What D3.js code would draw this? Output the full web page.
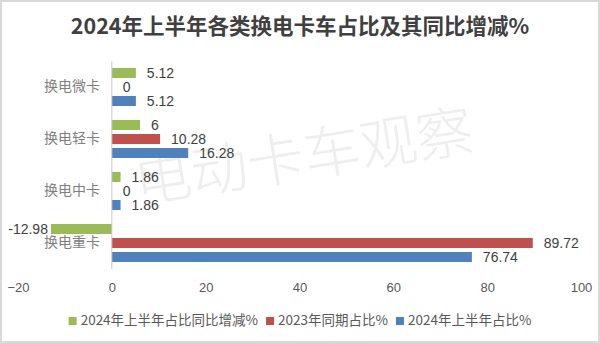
<!DOCTYPE html>
<html>
<head>
<meta charset="utf-8">
<script src="https://cdn.jsdelivr.net/npm/d3@7"></script>
<style>
  html, body { margin: 0; padding: 0; background: #fff; }
  svg { display: block; }
</style>
</head>
<body>
<svg id="chart" width="600" height="343"></svg>
<script>
// Battery-swap truck share, H1 2024, with year-on-year change (%)
const categories = ["换电微卡", "换电轻卡", "换电中卡", "换电重卡"];
const changeYoY = [5.12, 6, 1.86, -12.98];
const share2023 = [0, 10.28, 0, 89.72];
const share2024 = [5.12, 16.28, 1.86, 76.74];
const seriesNames = ["2024年上半年占比同比增减%", "2023年同期占比%", "2024年上半年占比%"];
const seriesColors = ["#9BBB59", "#C0504D", "#4F81BD"];
const xTicks = [-20, 0, 20, 40, 60, 80, 100];
const titleText = "2024年上半年各类换电卡车占比及其同比增减%";
const watermarkText = "电动卡车观察";

const seriesValues = [changeYoY, share2023, share2024];
const W = 600, H = 343;
const svg = d3.select("#chart");
const cjk = "'Noto Sans CJK SC', 'Noto Sans', sans-serif";
const num = "'Liberation Sans', Arial, sans-serif";

// frame
svg.append("rect").attr("x", 1).attr("y", 1).attr("width", W - 2).attr("height", H - 2)
  .attr("fill", "#fff").attr("stroke", "#d9d9d9").attr("stroke-width", 2);

// title
svg.append("text").attr("x", 300).attr("y", 28)
  .attr("text-anchor", "middle").attr("dominant-baseline", "middle")
  .attr("font-family", cjk).attr("font-weight", "bold").attr("font-size", 21.5)
  .attr("fill", "#404040").text(titleText);

const x = d3.scaleLinear().domain([-20, 100]).range([18, 581]);
const y = d3.scaleBand().domain(categories).range([61, 269]);
const inner = d3.scalePoint().domain([0, 1, 2]).range([12, 40]);
const barH = 10;

// watermark
svg.append("text").attr("x", 138).attr("y", 203)
  .attr("transform", "rotate(-9,138,203)")
  .attr("font-family", cjk).attr("font-size", 57).attr("font-weight", 300)
  .attr("fill", "#eeeeee").text(watermarkText);

// bars and value labels
const rows = [];
categories.forEach((c, ci) => {
  seriesValues.forEach((vals, si) => rows.push({ c, si, v: vals[ci] }));
});

const g = svg.append("g");
g.selectAll("rect.bar").data(rows).join("rect")
  .attr("class", "bar")
  .attr("x", d => x(Math.min(0, d.v)))
  .attr("width", d => Math.abs(x(d.v) - x(0)))
  .attr("y", d => y(d.c) + inner(d.si) - barH / 2)
  .attr("height", barH)
  .attr("fill", d => seriesColors[d.si]);

g.selectAll("text.val").data(rows).join("text")
  .attr("class", "val")
  .attr("x", d => d.v < 0 ? x(d.v) - 3 : x(d.v) + 11)
  .attr("y", d => y(d.c) + inner(d.si) + 1)
  .attr("text-anchor", d => d.v < 0 ? "end" : "start")
  .attr("dominant-baseline", "middle")
  .attr("font-family", num).attr("font-size", 14).attr("fill", "#404040")
  .text(d => d.v);

// category axis line at zero
svg.append("line").attr("x1", x(0)).attr("x2", x(0)).attr("y1", 61).attr("y2", 269)
  .attr("stroke", "#c8c8c8").attr("stroke-width", 1);

// category labels
svg.selectAll("text.cat").data(categories).join("text")
  .attr("class", "cat")
  .attr("x", 100).attr("y", d => y(d) + y.bandwidth() / 2)
  .attr("text-anchor", "end").attr("dominant-baseline", "middle")
  .attr("font-family", cjk).attr("font-size", 14).attr("fill", "#7f7f7f")
  .text(d => d);

// value axis
const xAxis = d3.axisBottom(x).tickValues(xTicks).tickSize(0).tickPadding(0);
const ax = svg.append("g").attr("transform", "translate(0,283)").call(xAxis);
ax.select(".domain").remove();
ax.selectAll("text").attr("font-family", num).attr("font-size", 13).attr("fill", "#595959")
  .attr("dy", "0.71em");

// legend
const leg = svg.append("g").attr("transform", "translate(0,321)");
const items = leg.selectAll("g").data(seriesNames).join("g");
items.append("rect").attr("width", 8).attr("height", 8).attr("y", -4)
  .attr("fill", (d, i) => seriesColors[i]);
items.append("text").attr("x", 12).attr("dominant-baseline", "middle")
  .attr("font-family", cjk).attr("font-size", 13.5).attr("fill", "#595959")
  .text(d => d);
const widths = [];
items.each(function () { widths.push(12 + this.querySelector("text").getComputedTextLength()); });
const gap = 8;
const total = d3.sum(widths) + gap * (widths.length - 1);
let cx = 300 - total / 2;
items.attr("transform", (d, i) => {
  const t = `translate(${cx},0)`;
  cx += widths[i] + gap;
  return t;
});
</script>
</body>
</html>
